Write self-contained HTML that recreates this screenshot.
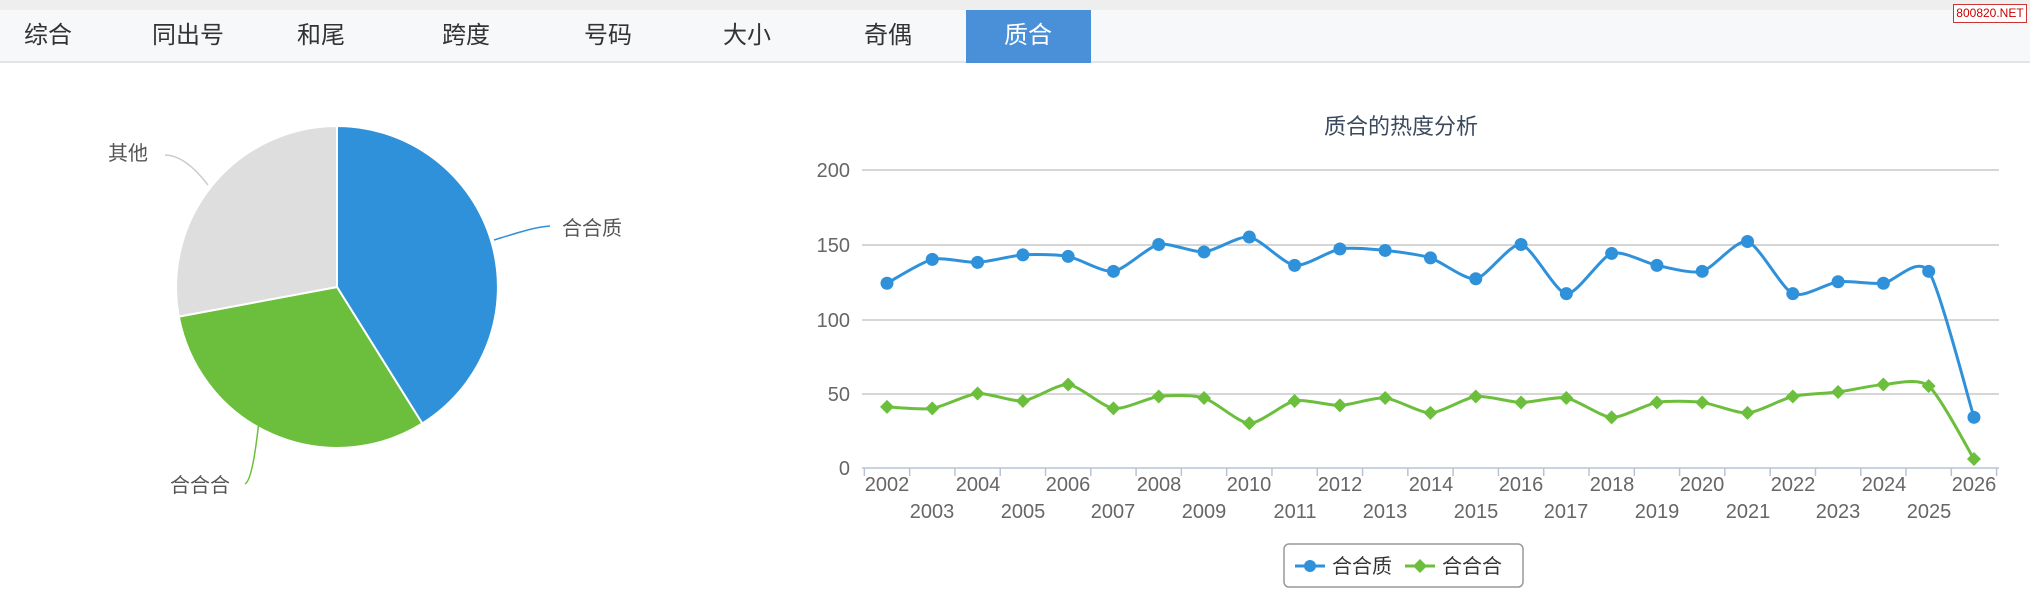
<!DOCTYPE html>
<html><head><meta charset="utf-8"><style>
body{margin:0;width:2030px;height:614px;background:#fff;overflow:hidden;font-family:"Liberation Sans","Noto Sans CJK SC",sans-serif;position:relative}
.top{position:absolute;left:0;top:0;width:2030px;height:10px;background:#eeeeee}
.bar{position:absolute;left:0;top:10px;width:2030px;height:51px;background:#f7f8fa;border-bottom:2px solid #e2e4e8}
.tab{position:absolute;top:10px;height:52px;line-height:52px;font-size:24px;color:#333;transform:translateX(-50%)}
.act{position:absolute;left:966px;top:10px;width:125px;height:53px;background:#4a90d9}
.logo{position:absolute;left:1953px;top:4px;width:72px;height:17px;border:1px solid #c33;font-size:12px;line-height:17px;text-align:center;color:#c00;background:#fff}
</style></head><body>
<div class="top"></div><div class="bar"></div><div class="act"></div>
<div class="tab" style="left:48px">综合</div>
<div class="tab" style="left:188px">同出号</div>
<div class="tab" style="left:321px">和尾</div>
<div class="tab" style="left:466px">跨度</div>
<div class="tab" style="left:608px">号码</div>
<div class="tab" style="left:747px">大小</div>
<div class="tab" style="left:888px">奇偶</div>
<div class="tab" style="left:1028px;color:#fff">质合</div>
<div class="logo">800820.NET</div>
<svg width="2030" height="614" style="position:absolute;left:0;top:0" xmlns="http://www.w3.org/2000/svg">
<g stroke="#fff" stroke-width="2">
<path d="M337,287 L337,126 A161,161 0 0 1 422.3,423.5 Z" fill="#2f91d9"/>
<path d="M337,287 L422.3,423.5 A161,161 0 0 1 178.8,316.6 Z" fill="#6cbf3c"/>
<path d="M337,287 L178.8,316.6 A161,161 0 0 1 337,126 Z" fill="#dedede"/>
</g>
<g fill="none" stroke-width="1.5">
<path d="M494,240 C520,232 535,227 550,226" stroke="#2f91d9"/>
<path d="M272,332 C262,360 258,478 245,484" stroke="#6cbf3c"/>
<path d="M208,185 C195,168 180,155 165,155" stroke="#ccc"/>
</g>
<g font-size="20" fill="#555">
<text x="108" y="160">其他</text>
<text x="562" y="235">合合质</text>
<text x="170" y="492">合合合</text>
</g>
<text x="1401" y="134" font-size="22" fill="#3a4a5c" text-anchor="middle">质合的热度分析</text>
<g stroke="#c8c8c8" stroke-width="1.5">
<line x1="862" y1="170" x2="1999" y2="170"/><line x1="862" y1="245" x2="1999" y2="245"/>
<line x1="862" y1="320" x2="1999" y2="320"/><line x1="862" y1="394" x2="1999" y2="394"/>
<line x1="862" y1="468" x2="1999" y2="468" stroke="#b8c4d4"/>
</g>
<g font-size="20" fill="#666" text-anchor="end">
<text x="850" y="177">200</text><text x="850" y="252">150</text><text x="850" y="327">100</text><text x="850" y="401">50</text><text x="850" y="475">0</text>
</g>
<g id="ticks" stroke="#b8c4d4" stroke-width="1.5"></g>
<g id="xl" font-size="20" fill="#666" text-anchor="middle">
<text x="887" y="491">2002</text><text x="932" y="518">2003</text><text x="978" y="491">2004</text><text x="1023" y="518">2005</text><text x="1068" y="491">2006</text><text x="1113" y="518">2007</text><text x="1159" y="491">2008</text><text x="1204" y="518">2009</text><text x="1249" y="491">2010</text><text x="1295" y="518">2011</text><text x="1340" y="491">2012</text><text x="1385" y="518">2013</text><text x="1431" y="491">2014</text><text x="1476" y="518">2015</text><text x="1521" y="491">2016</text><text x="1566" y="518">2017</text><text x="1612" y="491">2018</text><text x="1657" y="518">2019</text><text x="1702" y="491">2020</text><text x="1748" y="518">2021</text><text x="1793" y="491">2022</text><text x="1838" y="518">2023</text><text x="1884" y="491">2024</text><text x="1929" y="518">2025</text><text x="1974" y="491">2026</text>
</g>
<g id="series"></g>
<rect x="1284" y="544" width="239" height="43" rx="5" fill="#fff" stroke="#999" stroke-width="1.5"/>
<line x1="1295" y1="566" x2="1325" y2="566" stroke="#2f91d9" stroke-width="3"/><circle cx="1310" cy="566" r="6" fill="#2f91d9"/>
<text x="1332" y="573" font-size="20" fill="#333">合合质</text>
<line x1="1405" y1="566" x2="1435" y2="566" stroke="#6cbf3c" stroke-width="3"/><path d="M1420,559 L1427,566 L1420,573 L1413,566Z" fill="#6cbf3c"/>
<text x="1442" y="573" font-size="20" fill="#333">合合合</text>
</svg>
<script>
var b=[124,140,138,143,142,132,150,145,155,136,147,146,141,127,150,117,144,136,132,152,117,125,124,132,34];
var g=[41,40,50,45,56,40,48,47,30,45,42,47,37,48,44,47,34,44,44,37,48,51,56,55,6];
var NS="http://www.w3.org/2000/svg",s=document.getElementById("series"),t=document.getElementById("ticks");
function X(i){return 887+i*45.29}function Y(v){return 468-v*1.49}
for(var i=0;i<=25;i++){var l=document.createElementNS(NS,"line");var x=887+(i-0.5)*45.29;l.setAttribute("x1",x);l.setAttribute("x2",x);l.setAttribute("y1",468);l.setAttribute("y2",476);t.appendChild(l);}
function path(d){var p=[];for(var i=0;i<d.length;i++)p.push([X(i),Y(d[i])]);var s="M"+p[0][0]+","+p[0][1];
for(var i=0;i<p.length-1;i++){var p0=p[i-1]||p[i],p1=p[i],p2=p[i+1],p3=p[i+2]||p2;var k=0.12;
s+=" C"+(p1[0]+(p2[0]-p0[0])*k)+","+(p1[1]+(p2[1]-p0[1])*k)+" "+(p2[0]-(p3[0]-p1[0])*k)+","+(p2[1]-(p3[1]-p1[1])*k)+" "+p2[0]+","+p2[1];}return s;}
function draw(d,c,m){var p=document.createElementNS(NS,"path");p.setAttribute("d",path(d));p.setAttribute("fill","none");p.setAttribute("stroke",c);p.setAttribute("stroke-width","3");s.appendChild(p);
for(var i=0;i<d.length;i++){var x=X(i),y=Y(d[i]),e;if(m){e=document.createElementNS(NS,"circle");e.setAttribute("cx",x);e.setAttribute("cy",y);e.setAttribute("r",6.5);}else{e=document.createElementNS(NS,"path");e.setAttribute("d","M"+x+","+(y-7)+" L"+(x+7)+","+y+" L"+x+","+(y+7)+" L"+(x-7)+","+y+"Z");}e.setAttribute("fill",c);s.appendChild(e);}}
draw(b,"#2f91d9",1);draw(g,"#6cbf3c",0);
</script>
</body></html>
